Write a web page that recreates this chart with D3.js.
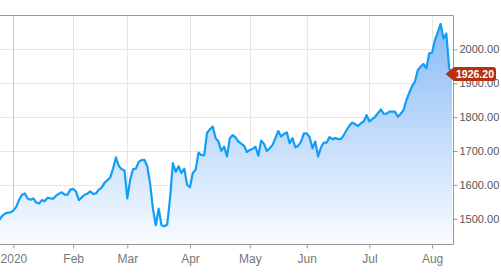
<!DOCTYPE html>
<html>
<head>
<meta charset="utf-8">
<script src="https://cdn.jsdelivr.net/npm/d3@7"></script>
<style>
body { margin: 0; background: #fff; }
svg { display: block; font-family: "Liberation Sans", Arial, sans-serif; }
</style>
</head>
<body>
<svg id="chart" width="501" height="274"></svg>
<script>
// daily closes, one value per trading day, grouped by month
var pricesDec = [1496, 1508, 1515, 1518, 1519];
var pricesJan = [1524, 1535, 1556, 1570, 1575, 1560, 1556, 1560, 1548, 1545, 1555, 1552, 1562, 1560, 1559, 1568, 1574, 1578, 1571, 1571, 1586];
var pricesFeb = [1588, 1580, 1555, 1563, 1571, 1574, 1581, 1573, 1575, 1586, 1592, 1606, 1614, 1622, 1648, 1681, 1656, 1646, 1643];
var pricesMar = [1560, 1615, 1646, 1648, 1668, 1673, 1674, 1655, 1604, 1530, 1481, 1530, 1481, 1478, 1483, 1560, 1664, 1638, 1655, 1635, 1648, 1600];
var pricesApr = [1593, 1635, 1645, 1695, 1688, 1688, 1754, 1764, 1772, 1738, 1728, 1700, 1713, 1684, 1738, 1747, 1740, 1728, 1722, 1715, 1697];
var pricesMay = [1703, 1706, 1713, 1686, 1731, 1721, 1700, 1708, 1718, 1738, 1759, 1743, 1750, 1755, 1723, 1738, 1711, 1715, 1728, 1752];
var pricesJun = [1752, 1741, 1708, 1728, 1684, 1711, 1725, 1725, 1741, 1735, 1738, 1736, 1735, 1747, 1762, 1775, 1784, 1779, 1774, 1782, 1787, 1806];
var pricesJul = [1787, 1794, 1801, 1812, 1823, 1810, 1810, 1816, 1816, 1816, 1801, 1810, 1821, 1851, 1872, 1892, 1905, 1939, 1949, 1957, 1944, 1988];
var pricesAug = [1990, 2027, 2050, 2075, 2032, 2047, 1944, 1926.2];

var monthLabels = ["2020", "Feb", "Mar", "Apr", "May", "Jun", "Jul", "Aug"];
var yTicks = [1500, 1600, 1700, 1800, 1900, 2000];
var lastPrice = 1926.20;

var months = [pricesJan, pricesFeb, pricesMar, pricesApr, pricesMay, pricesJun, pricesJul, pricesAug];
var prices = pricesDec.concat.apply(pricesDec, months);

// tick position = index of first trading day of each month
var monthIndex = [];
var start = pricesDec.length;
months.forEach(function(m) { monthIndex.push(start); start += m.length; });

var svg = d3.select("#chart");
var plotL = 0, plotR = 453.5, plotT = 15.5, plotB = 244.5;

var x = d3.scaleLinear().domain([0.3, 159.7]).range([plotL, plotR + 0.5]);
var y = d3.scaleLinear().domain([1424, 2100]).range([plotB, plotT]);

var defs = svg.append("defs");
var grad = defs.append("linearGradient")
  .attr("id", "fillGrad")
  .attr("gradientUnits", "userSpaceOnUse")
  .attr("x1", 0).attr("x2", 0).attr("y1", plotT).attr("y2", plotB);
grad.append("stop").attr("offset", "0%").attr("stop-color", "#86b8f5");
grad.append("stop").attr("offset", "100%").attr("stop-color", "#f8fcff");

defs.append("clipPath").attr("id", "plotClip")
  .append("rect").attr("x", plotL).attr("y", plotT).attr("width", plotR - plotL).attr("height", plotB - plotT);

// grid
svg.append("g").selectAll("line")
  .data(yTicks).enter().append("line")
  .attr("x1", plotL).attr("x2", plotR)
  .attr("y1", function(d) { return Math.round(y(d)) + 0.5; })
  .attr("y2", function(d) { return Math.round(y(d)) + 0.5; })
  .attr("stroke", "#e6e6e6");

svg.append("g").selectAll("line")
  .data(monthIndex).enter().append("line")
  .attr("x1", function(d) { return Math.round(x(d)) + 0.5; })
  .attr("x2", function(d) { return Math.round(x(d)) + 0.5; })
  .attr("y1", plotT).attr("y2", plotB)
  .attr("stroke", function(d, i) { return i == 0 ? "#c8c8c8" : "#e6e6e6"; });

var plot = svg.append("g").attr("clip-path", "url(#plotClip)");

var area = d3.area()
  .x(function(d, i) { return x(i); })
  .y0(plotB)
  .y1(function(d) { return y(d); });

var line = d3.line()
  .x(function(d, i) { return x(i); })
  .y(function(d) { return y(d); });

plot.append("path").datum(prices)
  .attr("d", area)
  .attr("fill", "url(#fillGrad)");

plot.append("path").datum(prices)
  .attr("d", line)
  .attr("fill", "none")
  .attr("stroke", "#129ef4")
  .attr("stroke-width", 2.2)
  .attr("stroke-linejoin", "round");

// frame
svg.append("path")
  .attr("d", "M" + plotL + "," + plotT + "H" + plotR + "V" + plotB + "H" + plotL)
  .attr("fill", "none")
  .attr("stroke", "#999");

// axes
var xAxis = svg.append("g")
  .attr("transform", "translate(0," + plotB + ")")
  .call(d3.axisBottom(x)
    .tickValues(monthIndex)
    .tickFormat(function(d, i) { return monthLabels[i]; })
    .tickSize(4)
    .tickPadding(6));
xAxis.select(".domain").remove();
xAxis.selectAll("line").attr("stroke", "#999");
xAxis.selectAll("text").attr("fill", "#777").style("font-size", "12px").style("font-family", "Liberation Sans, Arial, sans-serif");

var yAxis = svg.append("g")
  .attr("transform", "translate(" + plotR + ",0)")
  .call(d3.axisRight(y)
    .tickValues(yTicks)
    .tickFormat(d3.format(".2f"))
    .tickSize(4)
    .tickPadding(2));
yAxis.select(".domain").remove();
yAxis.selectAll("line").attr("stroke", "#999");
yAxis.selectAll("text").attr("fill", "#555").style("font-size", "11px").style("font-family", "Liberation Sans, Arial, sans-serif");

// last price marker
var py = y(lastPrice) - 0.5;
var tag = svg.append("g");
tag.append("path")
  .attr("d", "M445.5," + py + "L454," + (py - 7) + "H493a3,3 0 0 1 3,3V" + (py + 4) + "a3,3 0 0 1 -3,3H454Z")
  .attr("fill", "#b3320f");
tag.append("text")
  .attr("x", 475)
  .attr("y", py)
  .attr("dy", "0.36em")
  .attr("text-anchor", "middle")
  .attr("fill", "#fff")
  .style("font-size", "10.5px")
  .style("font-weight", "bold")
  .text(lastPrice.toFixed(2));
</script>
</body>
</html>
